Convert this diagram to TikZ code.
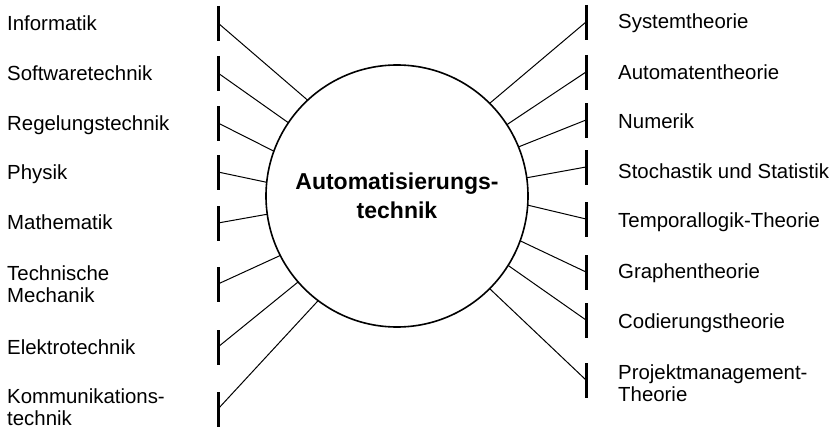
\documentclass[tikz,border=0pt]{standalone}
\usepackage{fontspec}
\setmainfont{Liberation Sans}
\begin{document}
\begin{tikzpicture}[x=1pt,y=-1pt,
  lbl/.style={anchor=west,inner sep=0pt,align=left,font=\fontsize{20.4}{22.5}\selectfont},
  one/.style={text height=14.6pt,text depth=0pt},
  bar/.style={line width=3pt},
  link/.style={line width=1pt},
  hub/.style={circle,draw,line width=1.6pt,minimum size=262pt,inner sep=0pt,outer sep=0pt,
    align=center,font=\fontsize{23}{29}\selectfont\bfseries}]
\useasboundingbox (0,0) rectangle (838,428);

% central circle
\node[hub] (c) at (397,196) {Automatisierungs-\\technik};

% left side: bar and link to the circle
\foreach \i/\y/\a in {1/23/133.8,2/73/146.4,3/123/160.6,4/172/174.8,
                      5/223/188.3,6/284/207.5,7/347/221.3,8/409/233.9}{
  \coordinate (l\i) at (218,\y);
  \draw[bar] (218,\y-17) -- (218,\y+18);
  \draw[link] (l\i) -- (c.\a);
}
% right side
\foreach \i/\y/\a in {1/22/45.9,2/72/33.3,3/120/22.9,4/167/8.2,
                      5/219/-4.8,6/272/-20.8,7/320/-32.6,8/380/-45.3}{
  \coordinate (r\i) at (586,\y);
  \draw[bar] (586,\y-17) -- (586,\y+18);
  \draw[link] (r\i) -- (c.\a);
}

% left labels
\node[lbl,one] (tl1) at (7,23)  {Informatik};
\node[lbl,one] (tl2) at (7,73)  {Softwaretechnik};
\node[lbl,one] (tl3) at (7,123) {Regelungstechnik};
\node[lbl,one] (tl4) at (7,172) {Physik};
\node[lbl,one] (tl5) at (7,222) {Mathematik};
\node[lbl]     (tl6) at (7,284) {Technische\\Mechanik};
\node[lbl,one] (tl7) at (7,347) {Elektrotechnik};
\node[lbl]     (tl8) at (7,407) {Kommunikations-\\technik};

% right labels
\node[lbl,one] (tr1) at (618,21)  {Systemtheorie};
\node[lbl,one] (tr2) at (618,72)  {Automatentheorie};
\node[lbl,one] (tr3) at (618,121) {Numerik};
\node[lbl,one] (tr4) at (618,171) {Stochastik und Statistik};
\node[lbl,one] (tr5) at (618,220) {Temporallogik-Theorie};
\node[lbl,one] (tr6) at (618,271) {Graphentheorie};
\node[lbl,one] (tr7) at (618,321) {Codierungstheorie};
\node[lbl]     (tr8) at (618,383) {Projektmanagement-\\Theorie};
\end{tikzpicture}
\end{document}
